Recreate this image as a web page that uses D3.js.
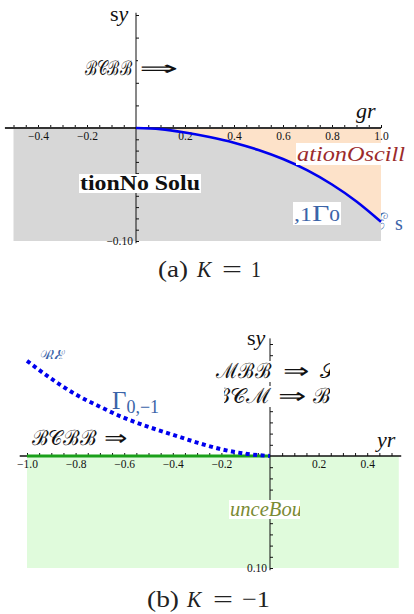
<!DOCTYPE html>
<html>
<head>
<meta charset="utf-8">
<script src="https://cdn.jsdelivr.net/npm/d3@7"></script>
<style>
  body { margin: 0; background: #fff; }
  svg { display: block; }
  .tick text { font-family: "Liberation Serif", serif; font-size: 11.5px; fill: #111; }
</style>
</head>
<body>
<div id="chart"></div>
<script>
// curve (a) K = 1 : boundary between no-solution and oscillation
const xTop = [0, 0.1, 0.2, 0.3, 0.4, 0.5, 0.6, 0.7, 0.8, 0.9, 1.0];
const yTop = [0, -0.001, -0.004, -0.008, -0.013, -0.0195, -0.0275, -0.0375, -0.050, -0.065, -0.083];
// curve (b) K = -1 : dotted Gamma_{0,-1}
const xBot = [-1.0, -0.9, -0.8, -0.7, -0.6, -0.5, -0.4, -0.3, -0.2, -0.1, 0];
const yBot = [0.085, 0.069, 0.055, 0.044, 0.034, 0.026, 0.019, 0.012, 0.006, 0.002, 0];
// tick labels
const topXTicks = [-0.4, -0.2, 0.2, 0.4, 0.6, 0.8, 1.0];
const botXTicks = [-1.0, -0.8, -0.6, -0.4, -0.2, 0.2, 0.4];
const topYTicks = [-0.10];
const botYTicks = [-0.10];

const svg = d3.select("#chart").append("svg")
  .attr("width", 414).attr("height", 614);

const defs = svg.append("defs");
let clipN = 0;

// text with white box behind it, optionally squeezed to a width and clipped
function label(g, parts, x, y, o) {
  o = o || {};
  const grp = g.append("g");
  if (o.clip) {
    const id = "c" + (clipN++);
    defs.append("clipPath").attr("id", id).append("rect")
      .attr("x", o.clip[0]).attr("y", o.clip[1]).attr("width", o.clip[2]).attr("height", o.clip[3]);
    grp.attr("clip-path", `url(#${id})`);
  }
  const bg = grp.append("rect").attr("fill", "#fff");
  const t = grp.append("text").attr("x", 0).attr("y", 0)
    .attr("font-family", o.font || "'Liberation Serif', serif")
    .attr("font-size", o.size || 19)
    .attr("fill", o.color || "#111");
  parts.forEach(p => {
    if (typeof p === "string") p = { t: p };
    const s = t.append("tspan").text(p.t);
    if (p.italic) s.attr("font-style", "italic");
    if (p.size) s.attr("font-size", p.size);
    if (p.dy) s.attr("dy", p.dy);
    if (p.weight) s.attr("font-weight", p.weight);
  });
  const b = t.node().getBBox();
  const sx = o.w ? o.w / b.width : 1;
  t.attr("transform", `translate(${x - b.x * sx},${y}) scale(${sx},1)`);
  if (o.bg !== false) {
    bg.attr("x", x - 1).attr("y", y + b.y + 2).attr("width", b.width * sx + 2).attr("height", b.height - 3);
  }
  return grp;
}

const fmt = d => d < 0 ? "\u2212" + Math.abs(d).toFixed(d === -0.1 ? 2 : 1) : d.toFixed(1);

function drawAxes(g, x, y, xr, yr, xTicks, yTicks, yMinorStep, xLine, yLabelFmt) {
  const minorX = d3.range(Math.ceil(xr[0] / 0.05) * 0.05, xr[1] + 1e-9, 0.05)
    .map(v => +v.toFixed(2)).filter(v => Math.abs(v) > 1e-9);
  g.append("g").attr("transform", `translate(0,${y(0)})`)
    .call(d3.axisTop(x).tickValues(minorX).tickSize(3).tickFormat(""))
    .call(a => a.select(".domain").remove())
    .call(a => a.selectAll("line").attr("stroke", "#111"));
  g.append("g").attr("transform", `translate(0,${y(0)})`)
    .call(d3.axisBottom(x).tickValues(xTicks).tickSize(0).tickPadding(4).tickFormat(fmt))
    .call(a => a.select(".domain").remove());
  g.append("line").attr("x1", x(xr[0])).attr("x2", x(xr[1]))
    .attr("y1", y(0)).attr("y2", y(0))
    .attr("stroke", xLine.color).attr("stroke-width", xLine.width);

  const minorY = [];
  for (let v = -0.1; v <= yr[1] + 1e-9; v += yMinorStep(v)) minorY.push(+v.toFixed(3));
  g.append("g").attr("transform", `translate(${x(0)},0)`)
    .call(d3.axisRight(y).tickValues(minorY.filter(v => Math.abs(v) > 1e-9)).tickSize(3).tickFormat(""))
    .call(a => a.select(".domain").remove())
    .call(a => a.selectAll("line").attr("stroke", "#111"));
  g.append("g").attr("transform", `translate(${x(0)},0)`)
    .call(d3.axisLeft(y).tickValues(yTicks).tickSize(0).tickPadding(3).tickFormat(yLabelFmt))
    .call(a => a.select(".domain").remove());
  g.append("line").attr("x1", x(0)).attr("x2", x(0))
    .attr("y1", y(yr[0])).attr("y2", y(yr[1]))
    .attr("stroke", "#111").attr("stroke-width", 1);
}

// caption pieces placed one by one: [text, x, width, italic]
function caption(pieces, y) {
  pieces.forEach(p => {
    label(svg, [p[3] ? { t: p[0], italic: true } : p[0]], p[1], y,
      { size: 24, color: "#222", w: p[2], bg: false });
  });
}

// ---------------- (a) K = 1 ----------------
const xA = d3.scaleLinear().domain([-0.5, 1.0]).range([13.5, 381]);
const yA = d3.scaleLinear().domain([-0.1, 0.1]).range([241, 15]);
const gA = svg.append("g");
const ptsA = xTop.map((v, i) => [v, yTop[i]]);

gA.append("path")
  .datum([[-0.5, 0]].concat(ptsA))
  .attr("fill", "#d7d7d7")
  .attr("d", d3.area().x(d => xA(d[0])).y0(yA(-0.1)).y1(d => yA(d[1])).curve(d3.curveMonotoneX));
gA.append("path")
  .datum(ptsA)
  .attr("fill", "#fde2c9")
  .attr("d", d3.area().x(d => xA(d[0])).y0(yA(0)).y1(d => yA(d[1])).curve(d3.curveMonotoneX));

drawAxes(gA, xA, yA, [-0.535, 1.0], [-0.102, 0.102], topXTicks, topYTicks,
  v => v < -1e-9 ? 0.01 : 0.02, { color: "#333", width: 2.2 }, fmt);

gA.append("path")
  .datum(ptsA)
  .attr("fill", "none").attr("stroke", "#0000ee").attr("stroke-width", 2.6)
  .attr("d", d3.line().x(d => xA(d[0])).y(d => yA(d[1])).curve(d3.curveMonotoneX));

label(gA, ["s", { t: "y", italic: true }], 110, 21, { size: 22, bg: false });
label(gA, ["\u212C\uD835\uDC9E\u212C\u212C"], 85, 75, { size: 20, w: 48 });
label(gA, ["\u21D2"], 139, 75, { size: 20, w: 40 });
label(gA, [{ t: "gr", italic: true }], 356, 118, { size: 22, bg: false });
label(gA, [{ t: "ationOscill", italic: true }], 297, 161, { size: 22, color: "#9b2b2b", w: 108 });
label(gA, [{ t: "tionNo Solu", weight: "bold" }], 80, 190, { size: 20, w: 120 });
label(gA, [{ t: ",1", size: 19 }, { t: "\u0393", size: 24 }, { t: "0", size: 17 }], 294, 221, { size: 18, color: "#3b64a8", w: 46 });
label(gA, ["\u2130"], 373, 230, { size: 24, color: "#3b64a8", clip: [381, 200, 14, 40], bg: false });
label(gA, ["s"], 395, 230, { size: 20, color: "#3b64a8", bg: false });

caption([["(a)", 158, 30], ["K", 196, 17, true], ["=", 222, 20], ["1", 251, 10]], 277);

// ---------------- (b) K = -1 ----------------
const xB = d3.scaleLinear().domain([-1.0, 0.5]).range([27, 391.5]);
const yB = d3.scaleLinear().domain([-0.1, 0.1]).range([568, 344]);
const gB = svg.append("g");
const ptsB = xBot.map((v, i) => [v, yBot[i]]);

gB.append("rect")
  .attr("x", xB(-1.0)).attr("y", yB(0))
  .attr("width", xB(0.53) - xB(-1.0)).attr("height", yB(-0.1) - yB(0))
  .attr("fill", "#e0fbdc");

drawAxes(gB, xB, yB, [-1.03, 0.54], [-0.102, 0.105], botXTicks, botYTicks,
  () => 0.01, { color: "#111", width: 1.5 }, d => Math.abs(d).toFixed(2));

gB.append("line")
  .attr("x1", xB(-1.0)).attr("x2", xB(0)).attr("y1", yB(0)).attr("y2", yB(0))
  .attr("stroke", "#1aa01a").attr("stroke-width", 3.2);

gB.append("path")
  .datum(ptsB)
  .attr("fill", "none").attr("stroke", "#0000ee").attr("stroke-width", 4)
  .attr("stroke-dasharray", "4,3.5")
  .attr("d", d3.line().x(d => xB(d[0])).y(d => yB(d[1])).curve(d3.curveMonotoneX));

label(gB, ["\u212C\u2130"], 39, 364, { size: 21, color: "#3b64a8", w: 26, clip: [37, 350, 30, 9] });
label(gB, [{ t: "\u0393", size: 25 }, { t: "0,\u22121", size: 18, dy: 4 }], 112, 409, { size: 18, color: "#3b64a8", bg: false });
label(gB, ["\u212C\uD835\uDC9E\u212C\u212C"], 32, 445, { size: 21, w: 65 });
label(gB, ["\u21D2"], 104, 445, { size: 21, w: 24 });
label(gB, ["s", { t: "y", italic: true }], 247, 345, { size: 22, bg: false, clip: [240, 333, 30, 20] });
label(gB, ["\u2133\u212C\u212C"], 215, 378, { size: 21, w: 57, clip: [212, 360, 118, 22] });
label(gB, ["\u21D2"], 283, 378, { size: 21, w: 27 });
label(gB, ["\uD835\uDCAE"], 320, 378, { size: 21, clip: [316, 360, 14, 22] });
label(gB, ["\u212C\uD835\uDC9E\u2133"], 212, 403, { size: 21, w: 60, clip: [224, 385, 106, 22] });
label(gB, ["\u21D2"], 278, 403, { size: 21, w: 29 });
label(gB, ["\u212C"], 313, 403, { size: 21, clip: [310, 385, 20, 22] });
label(gB, [{ t: "yr", italic: true }], 375, 447, { size: 22, bg: false });
label(gB, [{ t: "unceBou", italic: true }], 230, 516, { size: 20, color: "#7a8a34", w: 72, clip: [229, 500, 71, 22] });

caption([["(b)", 147, 32], ["K", 186, 17, true], ["=", 213, 20], ["\u22121", 242, 28]], 607);
</script>
</body>
</html>
